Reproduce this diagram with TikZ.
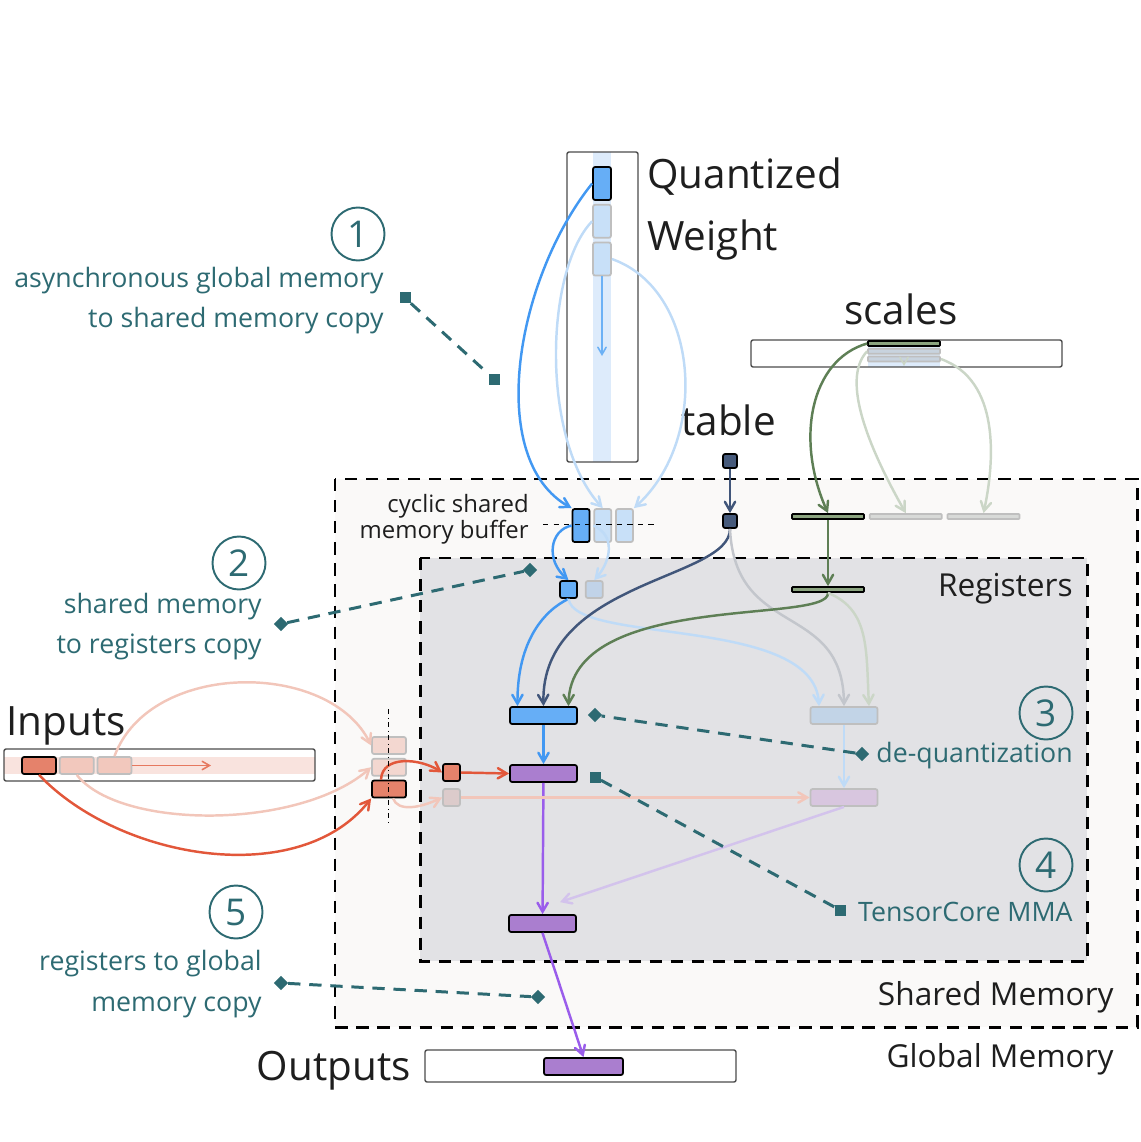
\documentclass[tikz,border=0pt]{standalone}
\usepackage{xcolor}
\usepackage{fontspec}
\setmainfont{Open Sans}
\usepackage{tikz}
\usetikzlibrary{calc, positioning, shapes.geometric, arrows}
\pgfdeclarelayer{background}
\pgfdeclarelayer{foreground}
\pgfsetlayers{background,main,foreground}

\definecolor{ink}{HTML}{1E1E1E}
\definecolor{noteteal}{HTML}{2D6A72}
\definecolor{shfill}{HTML}{FAF9F8}
\definecolor{regfill}{HTML}{E2E2E5}
\definecolor{wblue}{HTML}{66AEF6}
\definecolor{wblueln}{HTML}{4298F2}
\definecolor{wmid}{HTML}{6CB1F5}
\definecolor{wpale}{HTML}{C8E0F8}
\definecolor{wband}{HTML}{DDEBFB}
\definecolor{wfaint}{HTML}{BFDBF7}
\definecolor{rbpale}{HTML}{C1D3E8}
\definecolor{dqpale}{HTML}{C2D4E7}
\definecolor{navyfill}{HTML}{465A7B}
\definecolor{navyln}{HTML}{41567A}
\definecolor{grayln}{HTML}{C3C6CC}
\definecolor{sgreen}{HTML}{8BA47F}
\definecolor{greenln}{HTML}{5E7F55}
\definecolor{gfaint}{HTML}{CBD6C7}
\definecolor{gpale}{HTML}{D8DAD8}
\definecolor{spale}{HTML}{C8D3DE}
\definecolor{rfill}{HTML}{E5826B}
\definecolor{redln}{HTML}{E2573A}
\definecolor{redmid}{HTML}{E6785F}
\definecolor{rpale}{HTML}{F2C8BD}
\definecolor{rpaler}{HTML}{F3D7D0}
\definecolor{rfaint}{HTML}{F2C6BA}
\definecolor{rband}{HTML}{F9E3DE}
\definecolor{ripale}{HTML}{DCCBCB}
\definecolor{pfill}{HTML}{AA7ECF}
\definecolor{purpleln}{HTML}{9A5DEB}
\definecolor{ppale}{HTML}{D8C6DF}
\definecolor{pfaint}{HTML}{D3C3EC}

\tikzstyle{title}    = [inner sep=0pt, text=ink, font=\fontsize{23}{27}\selectfont]
\tikzstyle{memname}  = [inner sep=0pt, text=ink, font=\fontsize{18}{20}\selectfont]
\tikzstyle{smallname}= [inner sep=0pt, text=ink, font=\fontsize{13.6}{16}\selectfont]
\tikzstyle{remark}   = [inner sep=0pt, text=noteteal, font=\fontsize{15.2}{18}\selectfont]
\tikzstyle{stepnum}  = [circle, draw=noteteal, line width=1.1pt, minimum size=10.6mm, inner sep=0pt, text=noteteal, font=\fontsize{21}{21}\selectfont]
\tikzstyle{membox}   = [draw=black, line width=1.7pt, dash pattern=on 7pt off 5pt]
\tikzstyle{frame}    = [draw=black!70, line width=0.8pt, rounded corners=1.2pt]
\tikzstyle{tile}     = [rectangle, inner sep=0pt, rounded corners=1.2pt, line width=1pt]
\tikzstyle{hot}      = [tile, draw=black]
\tikzstyle{cold}     = [tile, draw=black!25]
\tikzstyle{wtile}    = [minimum width=3.6mm, minimum height=6.6mm]
\tikzstyle{ctile}    = [minimum width=3.4mm, minimum height=6.6mm]
\tikzstyle{sq}       = [minimum width=3.4mm, minimum height=3.4mm]
\tikzstyle{tsq}      = [minimum width=2.8mm, minimum height=2.8mm]
\tikzstyle{bar}      = [minimum width=14.4mm, minimum height=1mm, rounded corners=0.5pt]
\tikzstyle{wide}     = [minimum width=13.4mm, minimum height=3.4mm]
\tikzstyle{owide}    = [minimum width=15.8mm, minimum height=3.4mm]
\tikzstyle{itile}    = [minimum width=6.8mm, minimum height=3.4mm]
\tikzstyle{arrow}    = [line width=1.4pt, ->, >=angle 60]
\tikzstyle{thinarrow}= [line width=0.9pt]
\tikzstyle{link}     = [noteteal, line width=1.7pt, dash pattern=on 7pt off 5pt]
\tikzstyle{sqmark}   = [rectangle, fill=noteteal, inner sep=0pt, minimum size=2.2mm]
\tikzstyle{dmmark}   = [sqmark, minimum size=2mm, rotate=45]

\begin{document}
\begin{tikzpicture}[x=0.2mm, y=-0.2mm]
  \useasboundingbox (0,0) rectangle (1140,1142);

  % memory levels and frames
  \begin{pgfonlayer}{background}
    \draw[membox, fill=shfill] (335,479) rectangle (1137,1027);
    \draw[membox, fill=regfill] (420,558) rectangle (1087,961);
    \fill[wband] (593,152) rectangle (611,462);
    \draw[frame] (567,152) rectangle (638,462);
    \fill[wband] (868,340) rectangle (940,367);
    \draw[frame] (751,340) rectangle (1062,367);
    \fill[rband] (4,757) rectangle (315,774);
    \draw[frame] (4,749) rectangle (315,781);
    \draw[frame] (425,1050) rectangle (736,1082);
  \end{pgfonlayer}

  % labels
  \node[title, anchor=base west] (qname) at (647,189) {Quantized};
  \node[title, anchor=base west] (wname) at (647,251) {Weight};
  \node[title, anchor=base] (sname) at (901,325) {scales};
  \node[title, anchor=base west] (tname) at (681,435) {table};
  \node[title, anchor=base west] (iname) at (6,735) {Inputs};
  \node[title, anchor=base east] (oname) at (411,1080) {Outputs};
  \node[memname, anchor=base east] (regname) at (1073,596) {Registers};
  \node[memname, anchor=base east] (shname) at (1114,1005) {Shared Memory};
  \node[memname, anchor=base east] (glname) at (1114,1067) {Global Memory};
  \node[smallname, anchor=base east] (cyc1) at (529,512) {cyclic shared};
  \node[smallname, anchor=base east] (cyc2) at (529,538) {memory buffer};

  % weight tiles
  \node[hot, wtile, fill=wblue] (w1) at (602,183.5) {};
  \node[cold, wtile, fill=wpale, below=0.6mm of w1] (w2) {};
  \node[cold, wtile, fill=wpale, below=0.6mm of w2] (w3) {};
  \coordinate (wend) at (602,356);
  \node[hot, ctile, fill=wblue] (cb1) at (581,525.5) {};
  \node[cold, ctile, fill=wpale, right=0.6mm of cb1] (cb2) {};
  \node[cold, ctile, fill=wpale, right=0.6mm of cb2] (cb3) {};
  \node[hot, sq, fill=wblue] (rb1) at (568.5,589.5) {};
  \node[cold, sq, fill=rbpale, right=1.4mm of rb1] (rb2) {};

  % scales and table
  \node[hot, bar, fill=sgreen] (sc1) at (904,343.5) {};
  \node[cold, bar, fill=spale, below=0.2mm of sc1] (sc2) {};
  \node[cold, bar, fill=spale, below=0.2mm of sc2] (sc3) {};
  \coordinate (send) at (904,366);
  \node[hot, bar, fill=sgreen] (gb1) at (828,516.5) {};
  \node[cold, bar, fill=gpale, right=0.8mm of gb1] (gb2) {};
  \node[cold, bar, fill=gpale, right=0.8mm of gb2] (gb3) {};
  \node[hot, bar, fill=sgreen] (gr) at (828,589.5) {};
  \node[hot, tsq, fill=navyfill] (tb1) at (730,461) {};
  \node[hot, tsq, fill=navyfill] (tb2) at (730,521) {};

  % compute tiles
  \node[hot, wide, fill=wblue] (dq) at (543.5,715.5) {};
  \node[cold, wide, fill=dqpale] (ldq) at (844,715.5) {};
  \node[hot, wide, fill=pfill] (mma) at (543.5,773.5) {};
  \node[cold, wide, fill=ppale] (lmma) at (844,797.5) {};
  \node[hot, wide, fill=pfill] (acc) at (542.5,923.5) {};
  \node[hot, owide, fill=pfill] (outb) at (583.5,1066.5) {};

  % input tiles
  \node[hot, itile, fill=rfill] (ib1) at (39,765.5) {};
  \node[cold, itile, fill=rpale, right=0.4mm of ib1] (ib2) {};
  \node[cold, itile, fill=rpale, right=0.4mm of ib2] (ib3) {};
  \coordinate (iend) at (211,765.5);
  \node[cold, itile, fill=rpaler] (sa1) at (389,745.5) {};
  \node[cold, itile, fill=rpaler, below=0.6mm of sa1] (sa2) {};
  \node[hot, itile, fill=rfill, below=0.6mm of sa2] (sa3) {};
  \node[hot, sq, fill=rfill] (ri1) at (451.5,772.5) {};
  \node[cold, sq, fill=ripale] (ri2) at (451.5,797.5) {};

  \begin{pgfonlayer}{foreground}
    \draw[dashed, thin] (543,524) -- (657,524);
    \draw[dash dot, thin] (388,709) -- (388,822);
  \end{pgfonlayer}

  % weight path
  \draw[arrow, wblueln] (w1.west) .. controls (515,280) and (485,460) .. (cb1.north west);
  \draw[arrow, wfaint] (w2.west) .. controls (545,270) and (540,440) .. (cb2.north);
  \draw[arrow, wfaint] (w3.east) .. controls (700,290) and (710,440) .. (cb3.north east);
  \draw[arrow, thinarrow, wmid] (w3.south) -- (wend);
  \draw[arrow, wblueln] (cb1.west) .. controls (550,530) and (545,560) .. (rb1.north);
  \draw[arrow, wfaint] (cb2.west) .. controls (615,535) and (612,560) .. (rb2.north);
  \draw[arrow, wblueln] (rb1.south) .. controls (545,610) and (517,640) .. ([xshift=-5.2mm]dq.north);
  \draw[arrow, wfaint] (rb1.south) .. controls (575,645) and (815,615) .. ([xshift=-5mm]ldq.north);

  % table path
  \draw[arrow, navyln] (tb1) -- (tb2);
  \draw[arrow, navyln] (tb2.south) .. controls (730,580) and (540,580) .. (dq.north);
  \draw[arrow, grayln] (tb2.south) .. controls (735,640) and (843,600) .. (ldq.north);

  % scales path
  \draw[arrow, greenln] (sc1.west) .. controls (810,360) and (795,440) .. (gb1.north);
  \draw[arrow, gfaint] (sc2.west) .. controls (840,380) and (870,450) .. (gb2.north);
  \draw[arrow, gfaint] (sc3.east) .. controls (1000,380) and (995,460) .. (gb3.north);
  \draw[arrow, thinarrow, gfaint] (sc3.south) -- (send);
  \draw[arrow, greenln] (gb1) -- (gr);
  \draw[arrow, greenln] (gr.south) .. controls (830,625) and (570,590) .. ([xshift=5mm]dq.north);
  \draw[arrow, gfaint] (gr.south) .. controls (870,610) and (866,650) .. ([xshift=5mm]ldq.north);

  % mma and output
  \draw[arrow, wblueln] (dq) -- (mma);
  \draw[arrow, wfaint] (ldq) -- (lmma);
  \draw[arrow, purpleln] (mma) -- (acc);
  \draw[arrow, pfaint] (lmma.south) -- ([xshift=3.5mm,yshift=2.4mm]acc.north);
  \draw[arrow, purpleln] (acc.south) -- (outb.north);

  % input path
  \draw[arrow, thinarrow, redmid] (ib3.east) -- (iend);
  \draw[arrow, redln] (ib1.south) .. controls (120,860) and (300,890) .. (sa3.south west);
  \draw[arrow, rfaint] (ib3.north) .. controls (150,660) and (330,660) .. (sa1.west);
  \draw[arrow, rfaint] (ib2.south) .. controls (120,830) and (300,830) .. (sa2.west);
  \draw[arrow, redln] ([xshift=-1.6mm]sa3.north) .. controls (382,755) and (420,758) .. (ri1.west);
  \draw[arrow, rfaint] ([xshift=0.8mm]sa3.south) .. controls (398,812) and (420,808) .. (ri2.west);
  \draw[arrow, redln] (ri1.east) -- (mma.west);
  \draw[arrow, rfaint] (ri2.east) -- (lmma.west);

  % steps
  \node[stepnum] (n1) at (358,234) {1};
  \node[remark, anchor=base east] (r1a) at (384,288) {asynchronous global memory};
  \node[remark, anchor=base east] (r1b) at (384,328) {to shared memory copy};
  \node[sqmark] (m1a) at (405,298) {};
  \node[sqmark] (m1b) at (494,379) {};
  \draw[link] (m1a) -- (m1b);

  \node[stepnum] (n2) at (239,563) {2};
  \node[remark, anchor=base east] (r2a) at (262,613) {shared memory};
  \node[remark, anchor=base east] (r2b) at (262,653) {to registers copy};
  \node[dmmark] (m2a) at (281,624) {};
  \node[dmmark] (m2b) at (530,570) {};
  \draw[link] (m2a) -- (m2b);

  \node[stepnum] (n3) at (1046,713) {3};
  \node[remark, anchor=base east] (r3) at (1073,762) {de-quantization};
  \node[dmmark] (m3a) at (862,754) {};
  \node[dmmark] (m3b) at (595,715) {};
  \draw[link] (m3a) -- (m3b);

  \node[stepnum] (n4) at (1046,865) {4};
  \node[remark, anchor=base east] (r4) at (1073,921) {TensorCore MMA};
  \node[sqmark] (m4a) at (840,910) {};
  \node[sqmark] (m4b) at (595,777) {};
  \draw[link] (m4a) -- (m4b);

  \node[stepnum] (n5) at (236,912) {5};
  \node[remark, anchor=base east] (r5a) at (262,970) {registers to global};
  \node[remark, anchor=base east] (r5b) at (262,1011) {memory copy};
  \node[dmmark] (m5a) at (281,983) {};
  \node[dmmark] (m5b) at (538,997) {};
  \draw[link] (m5a) -- (m5b);

\end{tikzpicture}
\end{document}
